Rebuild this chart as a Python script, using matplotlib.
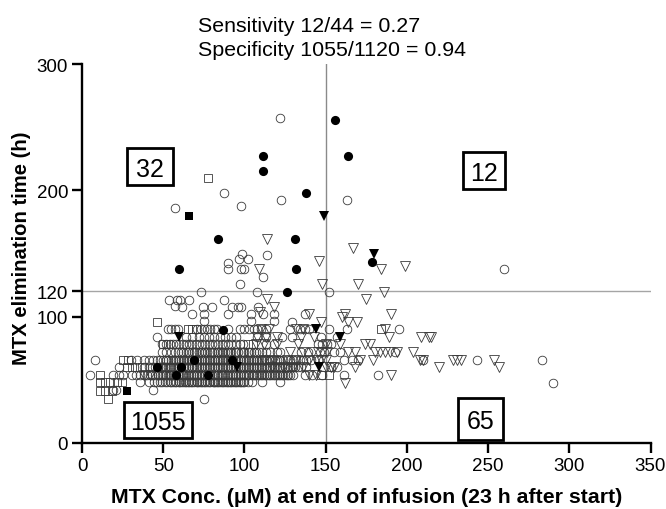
import matplotlib
matplotlib.use("Agg")
import matplotlib.pyplot as plt
from matplotlib.patches import Rectangle

plt.rcParams['font.family'] = ['Liberation Sans', 'DejaVu Sans']

# y levels of the dense rows (h)
circle_rows = {
    42: [19, 21, 44],
    35: [75],
    48: [36, 41, 44.5, 46, 48, 49.5, 51, 52.5, 54, 55, 57, 58, 59.5, 61, 62, 63.5, 65, 66, 68, 69, 70.5, 72, 73,
         75, 76, 78, 79, 80.5, 82, 83, 85, 86, 88, 90, 91, 93, 95, 96, 98, 100, 102, 104.5, 111, 122,
         56, 60, 64, 67, 71, 74, 77, 81, 84, 87, 89, 92, 94, 97, 99],
    54: [5, 19, 23, 25, 31, 33, 36, 38, 40, 42, 43, 45, 46.5, 48, 49, 51, 52, 53.5, 55, 56, 57, 59, 60, 61.5, 63, 64,
         66, 67, 68.5, 70, 71, 73, 74, 76, 77, 78.5, 80, 81, 83, 84, 85.5, 87, 88, 90, 91, 92.5, 94, 95, 97, 98,
         100, 101, 103, 104.5, 106, 108, 109, 111, 113, 115, 116, 118, 120, 122, 123, 125, 127, 128, 130, 137, 141.5,
         148, 161, 182, 47, 50, 54, 58, 62, 65, 69, 72, 75, 79, 82, 86, 89, 93, 96, 99, 102, 105, 107, 110, 112, 114,
         117, 119, 121, 124, 126],
    60: [23, 38, 41, 43, 45, 47, 48.5, 50, 51, 53, 54, 56, 57, 58.5, 60, 62, 63, 65, 66, 67.5, 69, 70, 72, 73, 75,
         76, 78, 79, 81, 82, 84, 85, 87, 88, 89, 91, 92, 94, 96, 97, 99, 100, 102, 103, 105, 106, 108, 110, 112,
         114, 116, 118, 120, 122, 125, 127, 129, 131, 133, 135, 138, 153, 157, 49, 52, 55, 59, 61, 64, 68, 71, 74,
         77, 80, 83, 86, 90, 93, 95, 98, 101, 104, 107, 109, 111, 113, 115, 117, 119, 121, 123, 126, 128, 130],
    66: [8, 30, 34, 38, 41, 44, 46, 48, 50, 51.5, 53, 55, 57, 58, 60, 62, 63, 65, 67, 68, 70, 72, 73, 75, 77, 78, 80,
         82, 83, 85, 87, 88, 90, 92, 94, 95, 97, 99, 100, 102, 103, 105, 106, 108, 110, 112, 115, 117, 120, 122,
         124, 128, 130, 134, 136, 138, 141, 145, 161, 166, 170, 210, 243, 283, 52, 56, 59, 61, 64, 66, 69, 71, 74, 76,
         79, 81, 84, 86, 89, 91, 93, 96, 98, 101, 104, 107, 109, 111, 113, 116, 119, 121, 126, 132],
    72: [49, 52, 55, 57, 59, 62, 64, 66, 68, 70, 72, 74, 75, 77, 79, 81, 83, 85, 87, 88, 90, 92, 94, 96, 98,
         100, 102, 104, 106, 109, 111, 113, 116, 120, 122, 135, 139, 149, 155, 159, 193, 61, 65, 69, 73, 76, 80, 84,
         86, 89, 91, 95, 99, 103, 107],
    78: [49, 52, 54, 56, 58, 60, 62, 64, 66, 68, 70, 72, 74, 76, 78, 80, 82, 84, 86, 88, 90, 92, 95, 97, 99, 113,
         118, 145, 148, 151, 153],
    84: [46, 64, 68, 72, 75, 78, 81, 85, 88, 92, 95, 108, 113, 123, 129, 147, 157],
    90: [53, 55, 57, 59, 71, 73, 75, 77, 79, 81, 83, 90, 97, 100, 103, 106, 108, 110, 113, 128, 134, 137, 140, 152,
         163, 195],
}
circle_extra_x = [122, 87.5, 98, 57, 122.8, 163, 98.8, 96.7, 102, 90, 90, 97.8, 99.8, 114, 111.7, 97, 108, 152, 73.3,
                  53.6, 58.3, 60.4, 66, 87.7, 57, 61.4, 74.7, 80.3, 92.2, 96.3, 98, 68, 75.4, 90, 104, 111.7, 118,
                  137.4, 75.2, 104, 118, 129, 108.6, 259.8, 290]
circle_extra_y = [257.6, 197.7, 187.6, 186, 192, 192, 149.6, 145.7, 145.7, 142.8, 137.5, 137.5, 137.5, 148.6, 131.4,
                  125.6, 119.6, 119.6, 119.6, 113.5, 113.5, 113.5, 113.5, 113.5, 108.7, 107.7, 107.7, 107.7, 107.7,
                  107.7, 107.7, 102, 102, 102, 102, 102, 102, 102, 96.5, 96.5, 96.5, 96, 108, 137.5, 47.8]

triangle_rows = {
    47.5: [162],
    54: [38, 42, 140, 144, 190],
    60: [117, 124, 130, 136, 150, 153, 155, 168],
    66: [112, 118, 126, 132, 140, 144, 147, 150, 171, 179, 208, 228.3, 230.8, 233.3, 253.8, 209.7],
    72: [128, 136, 142, 145, 148, 151, 164, 168, 180.5, 183.6, 186.7, 189.8, 193.9, 203.7],
    78: [107, 112, 120, 133, 150, 159, 174.4, 177.5],
    84: [108, 113, 120, 135, 143, 188.8, 209, 213.4, 215],
    90: [110, 115, 132, 136, 186.7],
}
triangle_extra_x = [114, 167, 146, 184, 199, 109, 148, 170, 186, 174.6, 113.8, 118, 109.7, 139.5, 160, 162, 190, 147,
                    163.7, 169, 220, 257]
triangle_extra_y = [161.8, 154, 143.8, 137.5, 140, 137.7, 125.8, 125.8, 119.6, 114, 114, 108, 104, 102, 100, 102, 102,
                    96, 96, 96, 60, 60]

square_x = [77.8, 46, 16, 11, 14, 18.3, 11, 14, 17, 21.4, 24.5, 11, 28, 31, 34, 37, 25.5, 28.5, 65, 68, 70, 50, 53,
            102, 105, 147, 152, 184]
square_y = [209.6, 95.5, 35, 41, 41, 41, 48, 48, 48, 48, 48, 54, 60, 60, 60, 60, 66, 66, 90, 90, 90, 78, 78,
            78, 78, 54, 54, 90]

filled_circle_x = [156, 111.7, 164, 111.7, 138, 83.8, 131, 59.8, 132, 178.5, 126, 87, 46, 61, 57.7, 77.8, 69, 92.6]
filled_circle_y = [255.7, 227.5, 227.5, 215.4, 197.7, 161.5, 161.5, 137.5, 137.5, 143.6, 119.6, 89.7, 60, 60, 54, 54,
                   66, 66]
filled_triangle_x = [149, 180, 144, 158.8, 145.8, 59.8, 95.3]
filled_triangle_y = [180, 150, 90, 84, 60, 84, 60]
filled_square_x = [66, 28]
filled_square_y = [180, 41]

x_ticks = [0, 50, 100, 150, 200, 250, 300, 350]
y_ticks = [0, 100, 120, 200, 300]
x_cut = 150
y_cut = 120

W, H = 666, 510
fig = plt.figure(figsize=(W / 100, H / 100), dpi=100, facecolor='white')
ax = fig.add_axes([82 / W, 1 - 444 / H, (650.5 - 82) / W, (444 - 65) / H])
ax.set_xlim(0, 350)
ax.set_ylim(0, 300)

ax.axvline(x_cut, color='#8a8a8a', lw=1.0, zorder=1)
ax.axhline(y_cut, color='#a5a5a5', lw=1.0, zorder=1)

edge = '#3a3a3a'
open_style = dict(ls='none', mfc='none', mec=edge, mew=0.6, clip_on=False, zorder=2)

cx = [x for xs in circle_rows.values() for x in xs] + circle_extra_x
cy = [y for y, xs in circle_rows.items() for _ in xs] + circle_extra_y
tx = [x for xs in triangle_rows.values() for x in xs] + triangle_extra_x
ty = [y for y, xs in triangle_rows.items() for _ in xs] + triangle_extra_y

ax.plot(cx, cy, 'o', ms=6.2, **open_style)
ax.plot(tx, ty, 'v', ms=6.6, **open_style)
ax.plot(square_x, square_y, 's', ms=5.6, **open_style)
ax.plot(filled_circle_x, filled_circle_y, 'o', ms=6.6, color='black', mew=0, zorder=3)
ax.plot(filled_triangle_x, filled_triangle_y, 'v', ms=7.2, color='black', mew=0, zorder=3)
ax.plot(filled_square_x, filled_square_y, 's', ms=6.0, color='black', mew=0, zorder=3)

for s in ('top', 'right'):
    ax.spines[s].set_visible(False)
for s in ('left', 'bottom'):
    ax.spines[s].set_linewidth(1.7)

ax.set_xticks(x_ticks)
ax.set_yticks(y_ticks)
ax.tick_params(length=7, width=1.7, labelsize=13.5, pad=3, colors='black')

ax.set_xlabel('MTX Conc. (\u03bcM) at end of infusion (23 h after start)', fontsize=15.3, fontweight='bold',
              va='center')
ax.xaxis.set_label_coords(0.5, -54 / 379)
ax.set_ylabel('MTX elimination time (h)', fontsize=14.6, fontweight='bold', va='center')
ax.yaxis.set_label_coords(-60 / 568.5, 196 / 379)

fig.text(198 / W, 1 - 32 / H, 'Sensitivity 12/44 = 0.27', fontsize=15.4, va='baseline')
fig.text(198 / W, 1 - 56 / H, 'Specificity 1055/1120 = 0.94', fontsize=15.4, va='baseline')

boxes = [('32', 127, 149, 173, 186), ('12', 463, 153, 505, 190),
         ('1055', 124, 403, 192, 439), ('65', 458, 399, 503, 441)]
for label, x0, y0, x1, y1 in boxes:
    fig.add_artist(Rectangle((x0 / W, 1 - y1 / H), (x1 - x0) / W, (y1 - y0) / H, transform=fig.transFigure,
                             facecolor='white', edgecolor='black', lw=2, zorder=5))
    fig.text((x0 + x1) / 2 / W, 1 - (y0 + y1) / 2 / H, label, fontsize=18, ha='center', va='center_baseline',
             zorder=6)

fig.savefig('out.png', dpi=100)
